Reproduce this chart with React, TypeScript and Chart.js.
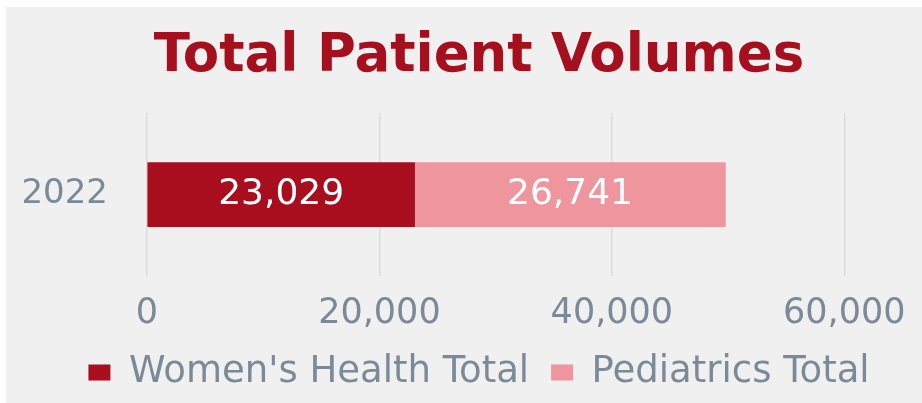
import React, { useEffect, useRef } from 'react';
import { Chart, registerables } from 'chart.js';

Chart.register(...registerables);

const categories: string[] = ['2022'];
const womensHealthTotal: number[] = [23029];
const pediatricsTotal: number[] = [26741];
const seriesNames: string[] = ["Women's Health Total", 'Pediatrics Total'];
const xMax = 60000;
const xStep = 20000;
const titleText = 'Total Patient Volumes';

const fmt = (v: number) => Number(v).toLocaleString('en-US');

const barLabels = {
  id: 'barLabels',
  afterDatasetsDraw(chart: any) {
    const ctx = chart.ctx;
    ctx.save();
    ctx.font = '36px "DejaVu Sans"';
    ctx.fillStyle = '#ffffff';
    ctx.textAlign = 'center';
    ctx.textBaseline = 'middle';
    chart.data.datasets.forEach((ds: any, i: number) => {
      const meta = chart.getDatasetMeta(i);
      meta.data.forEach((el: any, j: number) => {
        const p = el.getCenterPoint();
        ctx.fillText(fmt(ds.data[j]), p.x, p.y);
      });
    });
    ctx.restore();
  },
};

export default function App() {
  const ref = useRef<HTMLCanvasElement | null>(null);
  useEffect(() => {
    if (!ref.current) return;
    const tickColor = '#7b8a99';
    const chart = new Chart(ref.current, {
      type: 'bar',
      data: {
        labels: categories,
        datasets: [
          { label: seriesNames[0], data: womensHealthTotal, backgroundColor: '#a80e1e', barThickness: 64 },
          { label: seriesNames[1], data: pediatricsTotal, backgroundColor: '#ee959e', barThickness: 64 },
        ],
      },
      options: {
        indexAxis: 'y',
        animation: false,
        responsive: true,
        maintainAspectRatio: false,
        layout: { padding: { left: 15, right: -15, top: 0, bottom: 2 } },
        scales: {
          x: {
            stacked: true,
            min: 0,
            max: xMax,
            afterFit: (s: any) => { s.height = 56; },
            ticks: {
              stepSize: xStep,
              color: tickColor,
              padding: 16.5,
              font: { family: '"DejaVu Sans"', size: 35 },
              callback: (v: any) => fmt(v),
            },
            grid: { color: '#dcdcdc', lineWidth: 1.5, drawTicks: false },
            border: { display: false },
          },
          y: {
            stacked: true,
            afterFit: (s: any) => { s.width = 126; },
            ticks: {
              color: tickColor,
              padding: 39,
              font: { family: '"DejaVu Sans"', size: 34 },
            },
            grid: { display: false, drawTicks: false },
            border: { display: false },
          },
          yRightSpace: {
            type: 'category',
            position: 'right',
            afterFit: (s: any) => { s.width = 72; },
            ticks: { display: false },
            grid: { display: false, drawTicks: false },
            border: { display: false },
          },
        },
        plugins: {
          title: {
            display: true,
            text: titleText,
            color: '#a50f1e',
            font: { family: '"DejaVu Sans"', size: 53, weight: 'bold' },
            padding: { top: 18, bottom: 24.5 },
          },
          legend: {
            position: 'bottom',
            labels: {
              boxWidth: 22,
              boxHeight: 16,
              padding: 22,
              color: tickColor,
              font: { family: '"DejaVu Sans"', size: 37 },
            },
          },
          tooltip: { enabled: false },
        },
      },
      plugins: [barLabels],
    });
    return () => chart.destroy();
  }, []);

  return (
    <div style={{ position: 'fixed', left: 0, top: 0, width: 922, height: 403, background: '#ffffff' }}>
      <div style={{ position: 'absolute', left: 6, top: 7, width: 916, height: 396, background: '#f0f0f0' }}>
        <canvas ref={ref} />
      </div>
    </div>
  );
}
